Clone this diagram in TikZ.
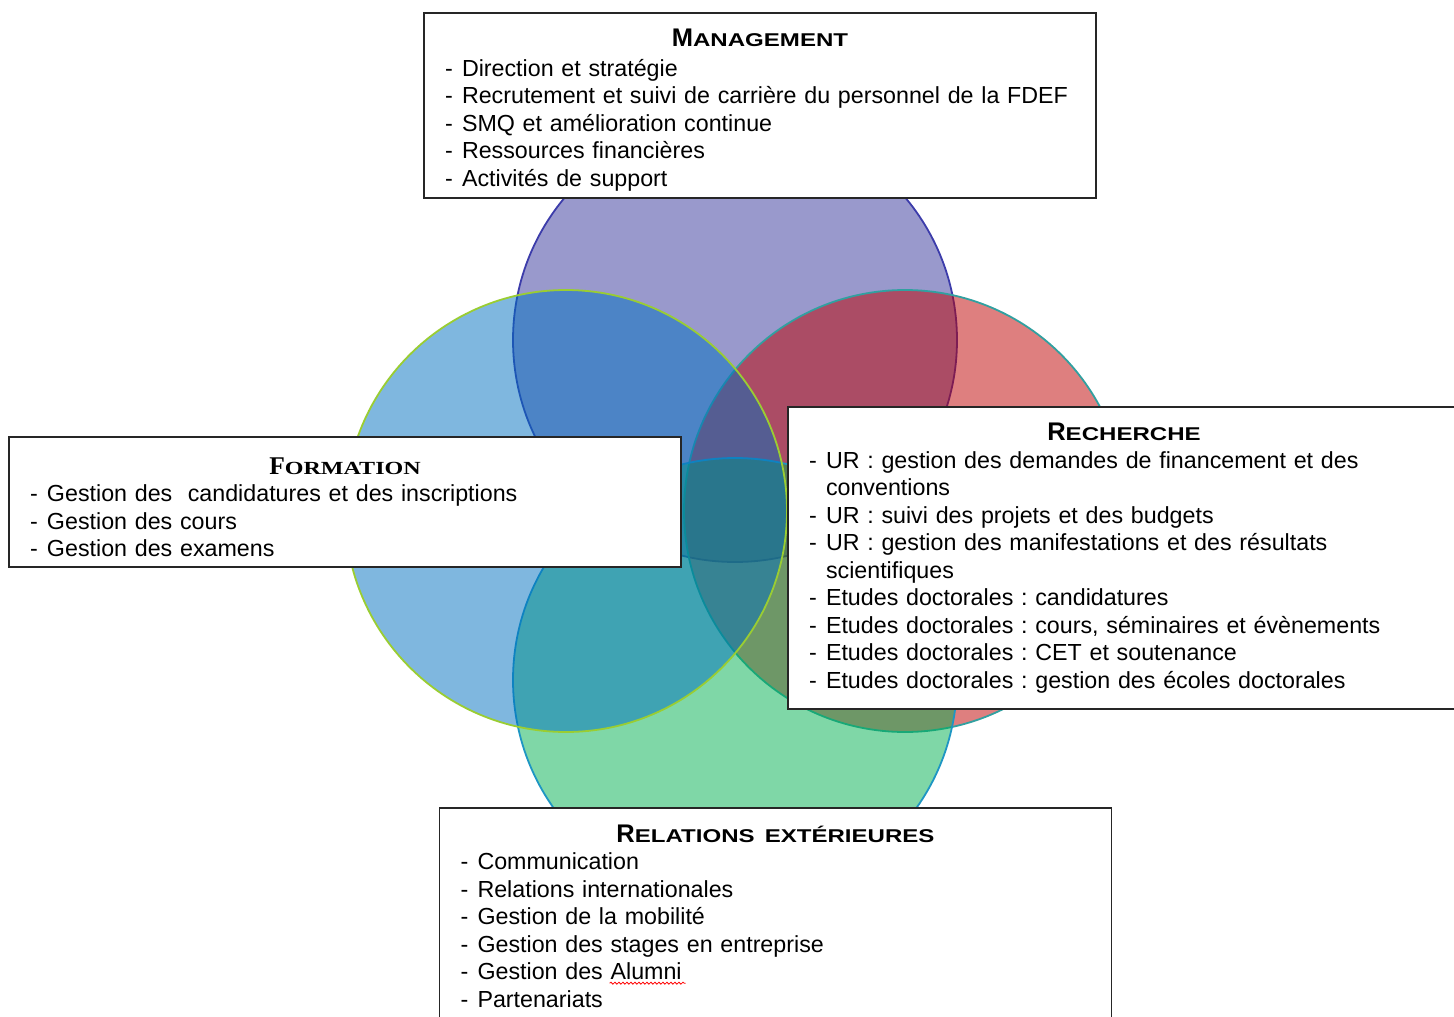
\documentclass[tikz,border=0pt]{standalone}
\usepackage{fontspec}
\usepackage{graphicx}
\setmainfont{Liberation Sans}
\newfontfamily\timesfont{Liberation Serif}
\usetikzlibrary{positioning,calc,decorations.pathmorphing}

\definecolor{mgmtpurple}{RGB}{51,51,153}
\definecolor{rechred}{RGB}{190,0,0}
\definecolor{formblue}{RGB}{0,112,192}
\definecolor{relgreen}{RGB}{0,176,80}
\definecolor{purpleline}{RGB}{60,60,170}
\definecolor{limeline}{RGB}{154,205,50}
\definecolor{tealline}{RGB}{49,160,160}
\definecolor{cyanline}{RGB}{30,150,195}

% fake small caps title: big first letter, smaller and wider rest
\newcommand{\ttl}[2]{\textbf{{\fontsize{25.5}{27}\selectfont #1}\scalebox{1.3}[1]{\fontsize{18.5}{20}\selectfont #2}}}
% one item of a list, with its dash
\newcommand{\itm}[1]{\par\hangindent=17pt\hangafter=1\noindent\makebox[17pt][l]{-}#1}
% continuation line of an item
\newcommand{\cont}{\\\hspace*{17pt}}

\begin{document}
\frenchspacing
\begin{tikzpicture}[x=1pt,y=-1pt,
    venn/.style={line width=1.8pt, fill opacity=0.5},
    infobox/.style={draw=black!85, line width=1.6pt, fill=white,
      text width=630pt, align=left, inner xsep=21pt, inner ysep=0pt,
      minimum height=#1, font=\fontsize{23.25}{27.5}\selectfont}]
  \clip (0,0) rectangle (1454,1017);

  % the four circles
  \draw[venn, fill=mgmtpurple, draw=purpleline] (735,340) circle[radius=222pt];
  \draw[venn, fill=rechred, draw=tealline] (905,511) circle[radius=221pt];
  \draw[venn, fill=relgreen, draw=cyanline] (735,680) circle[radius=222pt];
  \draw[venn, fill=formblue, draw=limeline] (566,511) circle[radius=221pt];

  % the boxes
  \node[infobox=185pt] (mgmt) at (760,105.5) {%
    \centerline{\rule{0pt}{26.5pt}\ttl{M}{ANAGEMENT}}\vspace{2pt}%
    \itm{Direction et stratégie}
    \itm{Recrutement et suivi de carrière du personnel de la FDEF}
    \itm{SMQ et amélioration continue}
    \itm{Ressources financières}
    \itm{Activités de support}};

  \node[infobox=130pt] (form) at (345,502) {%
    \centerline{\rule{0pt}{27pt}\timesfont\ttl{F}{ORMATION}}%
    \itm{Gestion des \ candidatures et des inscriptions}
    \itm{Gestion des cours}
    \itm{Gestion des examens}};

  \node[infobox=302pt] (rech) at (1124,558) {%
    \centerline{\ttl{R}{ECHERCHE}}%
    \itm{UR : gestion des demandes de financement et des\cont conventions}
    \itm{UR : suivi des projets et des budgets}
    \itm{UR : gestion des manifestations et des résultats\cont scientifiques}
    \itm{Etudes doctorales : candidatures}
    \itm{Etudes doctorales : cours, séminaires et évènements}
    \itm{Etudes doctorales : CET et soutenance}
    \itm{Etudes doctorales : gestion des écoles doctorales}};

  \node[infobox=216pt] (relext) at (775.5,916) {%
    \centerline{\ttl{R}{ELATIONS EXTÉRIEURES}}%
    \itm{Communication}
    \itm{Relations internationales}
    \itm{Gestion de la mobilité}
    \itm{Gestion des stages en entreprise}
    \itm{Gestion des Alumni}
    \itm{Partenariats}};

  % spelling mark under Alumni
  \draw[red, line width=0.8pt, decorate,
    decoration={snake, amplitude=1pt, segment length=4pt}]
    ($(relext.north west)+(171,176)$) -- ($(relext.north west)+(247,176)$);
\end{tikzpicture}
\end{document}
